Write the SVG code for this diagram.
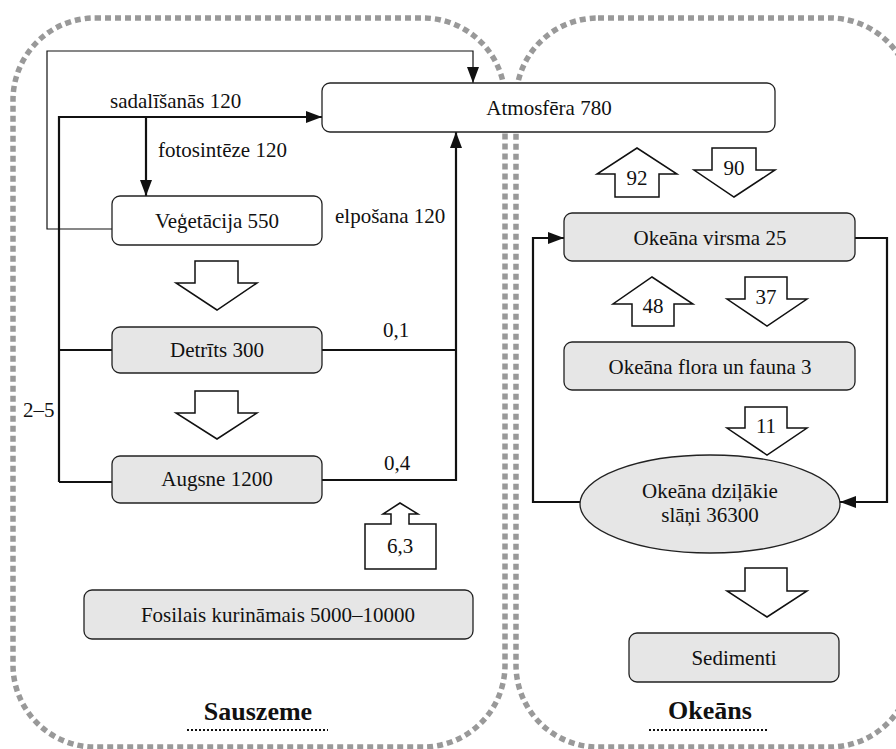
<svg xmlns="http://www.w3.org/2000/svg" width="896" height="749" viewBox="0 0 896 749">
<style>
text{font-family:"Liberation Serif","Times New Roman",Times,"Noto Serif","DejaVu Serif",serif;font-size:21px;font-weight:normal;fill:#111}
.c{text-anchor:middle}
.t{font-weight:bold;font-size:26px;text-anchor:middle}
.zone{fill:none;stroke:#999;stroke-width:5.5;stroke-dasharray:6 4}
.box{stroke:#222;stroke-width:1.3}
.w{fill:#fff}
.g{fill:#e6e6e6}
.blk{fill:#fff;stroke:#111;stroke-width:1.5}
.thick{fill:none;stroke:#111;stroke-width:2.2}
.thin{fill:none;stroke:#111;stroke-width:1.2}
.ul{stroke:#111;stroke-width:2;stroke-dasharray:2 2}
</style>
<defs>
<marker id="ah" viewBox="0 0 16 12" refX="16" refY="6" markerWidth="16" markerHeight="12" markerUnits="userSpaceOnUse" orient="auto">
<path d="M0,0 L16,6 L0,12 Z" fill="#111"/>
</marker>
</defs>
<rect width="896" height="749" fill="#fff"/>
<g id="zones">
<rect class="zone" x="13" y="18" width="492" height="729" rx="82" ry="82"/>
<rect class="zone" x="516" y="18" width="396" height="729" rx="82" ry="82"/>
</g>
<g id="connectors">
<path class="thin" d="M112,229 H47 V51 H473 V83" marker-end="url(#ah)"/>
<path class="thick" d="M59,482 V117 H322" marker-end="url(#ah)"/>
<path class="thick" d="M146,117 V196" marker-end="url(#ah)"/>
<path class="thick" d="M59,350 H112"/>
<path class="thick" d="M59,482 H112"/>
<path class="thick" d="M322,350 H456"/>
<path class="thick" d="M322,480 H456 V132" marker-end="url(#ah)"/>
<path class="thick" d="M580,502 H533 V238 H564" marker-end="url(#ah)"/>
<path class="thick" d="M855,238 H887 V502 H840" marker-end="url(#ah)"/>
<text x="110" y="108">sadalīšanās 120</text>
<text x="158" y="157">fotosintēze 120</text>
<text x="335" y="223">elpošana 120</text>
<text x="396" y="337" class="c">0,1</text>
<text x="397" y="470" class="c">0,4</text>
<text x="23" y="417">2–5</text>
</g>
<g id="atmosfera">
<rect class="box w" x="322" y="83" width="453" height="49" rx="8"/>
<text x="549" y="115" class="c">Atmosfēra 780</text>
</g>
<g id="vegetacija">
<rect class="box w" x="112" y="196" width="210" height="49" rx="8"/>
<text x="217" y="228" class="c">Veģetācija 550</text>
</g>
<g id="detrits">
<rect class="box g" x="112" y="327" width="210" height="46" rx="8"/>
<text x="217" y="357" class="c">Detrīts 300</text>
</g>
<g id="augsne">
<rect class="box g" x="112" y="456" width="210" height="47" rx="8"/>
<text x="217" y="486" class="c">Augsne 1200</text>
</g>
<g id="fosilais">
<rect class="box g" x="84" y="590" width="389" height="49" rx="8"/>
<text x="278" y="622" class="c">Fosilais kurināmais 5000–10000</text>
</g>
<g id="okeana-virsma">
<rect class="box g" x="564" y="213" width="291" height="48" rx="8"/>
<text x="710" y="245" class="c">Okeāna virsma 25</text>
</g>
<g id="okeana-flora">
<rect class="box g" x="564" y="342" width="291" height="48" rx="8"/>
<text x="710" y="374" class="c">Okeāna flora un fauna 3</text>
</g>
<g id="okeana-dzilakie">
<ellipse class="box g" cx="710" cy="504" rx="130" ry="49"/>
<text x="710" y="498" class="c">Okeāna dziļākie</text>
<text x="710" y="522" class="c">slāņi 36300</text>
</g>
<g id="sedimenti">
<rect class="box g" x="629" y="633" width="210" height="49" rx="8"/>
<text x="734" y="665" class="c">Sedimenti</text>
</g>
<g id="block-arrows">
<path class="blk" d="M195,261 H238 V283 H257 L217,310 L176,283 H195 Z"/>
<path class="blk" d="M195,391 H238 V413 H257 L217,439 L176,413 H195 Z"/>
<path class="blk" d="M365,524 H391 V514 H383 L400,503 L418,514 H409 V524 H436 V569 H365 Z"/>
<text x="400" y="553" class="c">6,3</text>
<path class="blk" d="M615,197 V174 H597 L637,148 L677,174 H659 V197 Z"/>
<text x="637" y="185" class="c">92</text>
<path class="blk" d="M712,148 H756 V170 H775 L734,197 L694,170 H712 Z"/>
<text x="734" y="175" class="c">90</text>
<path class="blk" d="M632,326 V304 H613 L652,277 L693,304 H674 V326 Z"/>
<text x="653" y="313" class="c">48</text>
<path class="blk" d="M745,277 H787 V299 H807 L767,326 L727,299 H745 Z"/>
<text x="766" y="304" class="c">37</text>
<path class="blk" d="M745,407 H787 V428 H807 L767,455 L727,428 H745 Z"/>
<text x="766" y="433" class="c">11</text>
<path class="blk" d="M745,568 H787 V591 H807 L767,617 L727,591 H745 Z"/>
</g>
<g id="titles">
<text x="258" y="720" class="t">Sauszeme</text>
<line class="ul" x1="187" y1="730" x2="328" y2="730"/>
<text x="710" y="719" class="t">Okeāns</text>
<line class="ul" x1="649" y1="730" x2="769" y2="730"/>
</g>
</svg>
